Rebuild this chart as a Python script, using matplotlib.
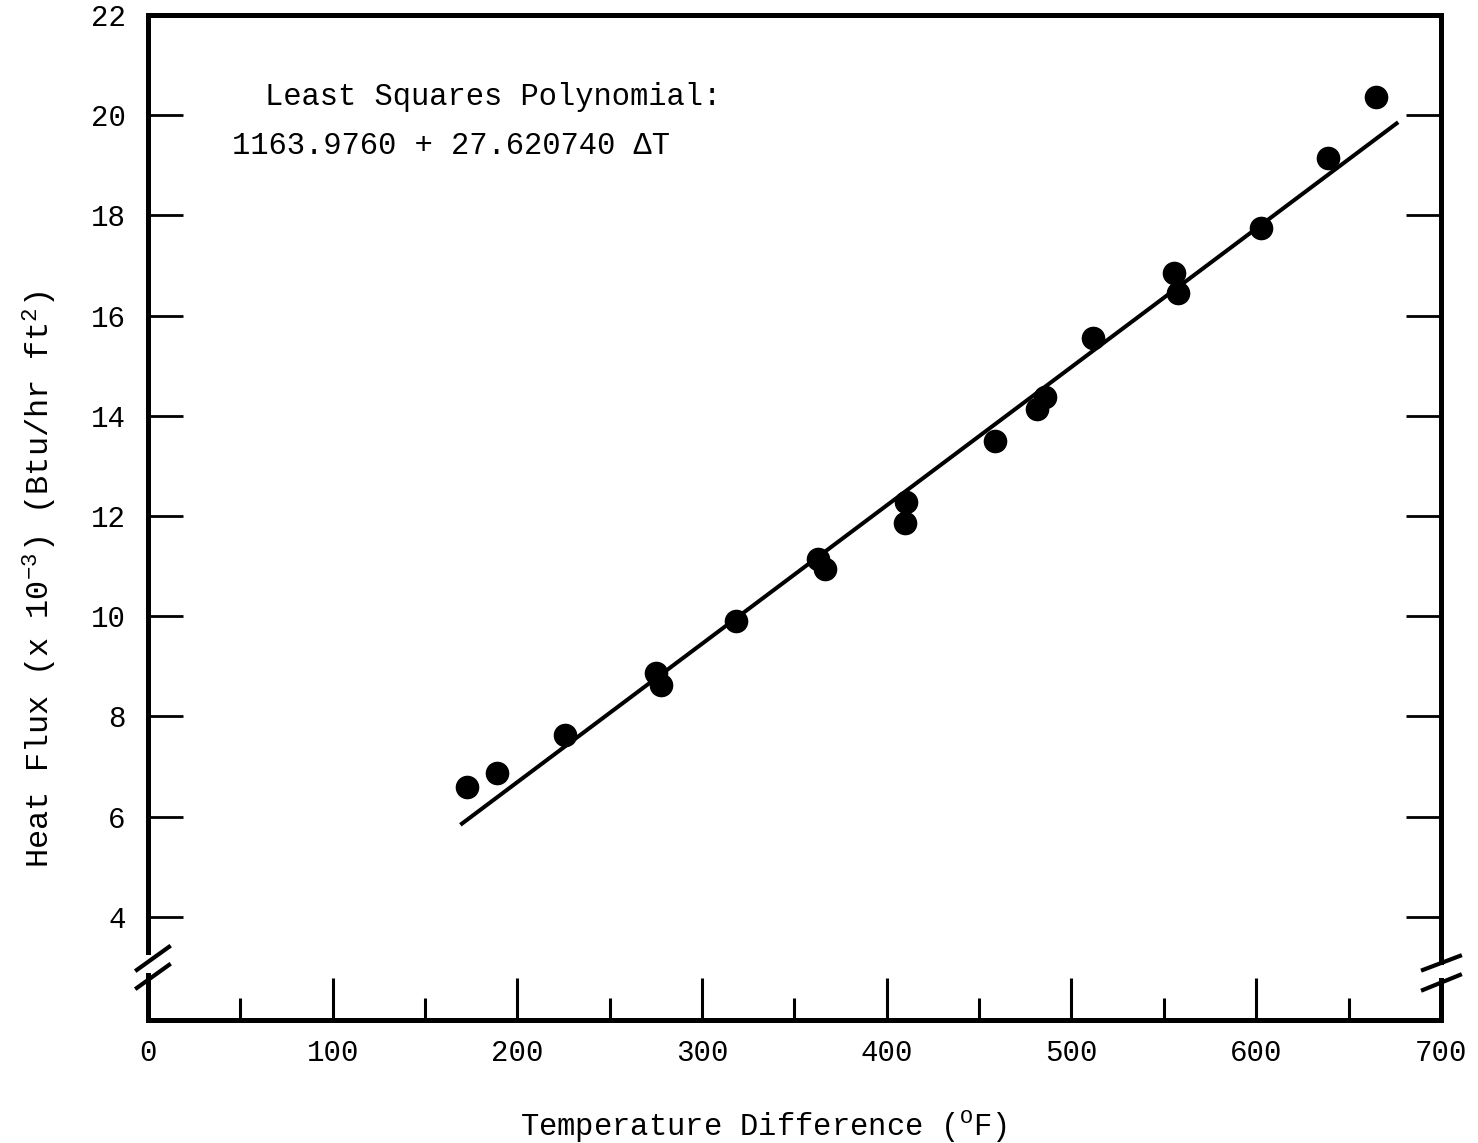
import numpy as np
import matplotlib
matplotlib.use('Agg')
import matplotlib.pyplot as plt

# Data
delta_t = [172.7, 189.0, 225.8, 275.0, 277.7, 318.4, 362.7, 366.5, 409.9, 410.4,
           458.6, 481.3, 485.7, 511.6, 555.5, 557.7, 602.6, 638.9, 664.9]
heat_flux = [6.59, 6.87, 7.63, 8.87, 8.63, 9.90, 11.14, 10.94, 11.86, 12.28,
             13.50, 14.14, 14.38, 15.55, 16.85, 16.45, 17.75, 19.15, 20.36]

# least squares fit (Btu/hr ft2), plotted in units of 1000
fit_a = 1163.9760
fit_b = 27.620740
fit_range = [170, 676]

x_ticks = [0, 100, 200, 300, 400, 500, 600, 700]
y_ticks = [4, 6, 8, 10, 12, 14, 16, 18, 20, 22]

plt.rcParams['font.family'] = ['Liberation Mono', 'DejaVu Sans Mono']
plt.rcParams['mathtext.fontset'] = 'custom'
plt.rcParams['mathtext.rm'] = 'Liberation Mono'
plt.rcParams['mathtext.it'] = 'Liberation Mono'
plt.rcParams['mathtext.default'] = 'rm'

fig = plt.figure(figsize=(14.78, 11.43), dpi=100)
ax = fig.add_axes([0.1001, 0.1076, 0.8748, 0.8793])

ylo, yhi = 1.94, 22
ax.set_xlim(0, 700)
ax.set_ylim(ylo, yhi)

# points and fitted line
ax.plot(delta_t, heat_flux, 'o', color='black', markersize=16, zorder=3)
fx = np.array(fit_range, dtype=float)
ax.plot(fx, (fit_a + fit_b * fx) / 1000.0, color='black', lw=2.9, zorder=2)

# frame, with breaks on the vertical axes
lw = 3.6
for s in ['top', 'bottom', 'left', 'right']:
    ax.spines[s].set_linewidth(lw)
ax.spines['left'].set_bounds(3.30, yhi)
ax.spines['right'].set_bounds(3.10, yhi)
ax.plot([0, 0], [ylo, 2.84], color='black', lw=lw, clip_on=False, solid_capstyle='projecting')
ax.plot([700, 700], [ylo, 2.74], color='black', lw=lw, clip_on=False, solid_capstyle='projecting')

# break slashes
for y0, y1 in [(2.94, 3.40), (2.58, 3.04)]:
    ax.plot([-6.0, 11.4], [y0, y1], color='black', lw=3.0, clip_on=False)
for y0, y1 in [(2.94, 3.22), (2.54, 2.84)]:
    ax.plot([690.3, 710.3], [y0, y1], color='black', lw=3.0, clip_on=False)

# ticks
ax.set_xticks(x_ticks)
ax.set_xticks([50, 150, 250, 350, 450, 550, 650], minor=True)
ax.set_yticks(y_ticks)
ax.tick_params(axis='x', which='major', direction='in', length=30, width=2.2,
               labelsize=21, pad=14)
ax.tick_params(axis='x', which='minor', direction='in', length=16, width=2.2)
ax.tick_params(axis='y', which='major', direction='in', length=25, width=2.0,
               labelsize=21, pad=16, left=True, right=True)

ax.set_xlabel('Temperature Difference ($^{\\mathrm{O}}$F)', fontsize=22)
ax.set_ylabel('Heat Flux (x 10$^{-3}$) (Btu/hr ft$^{2}$)', fontsize=23)
ax.xaxis.set_label_coords(0.4756, -0.087)
ax.yaxis.set_label_coords(-0.069, 0.438)

ax.text(63.3, 20.36, 'Least Squares Polynomial:', fontsize=22, va='center', ha='left')
ax.text(45.5, 19.39, '1163.9760 + 27.620740 \u0394T', fontsize=22, va='center', ha='left')

fig.savefig('out.png', dpi=100)
